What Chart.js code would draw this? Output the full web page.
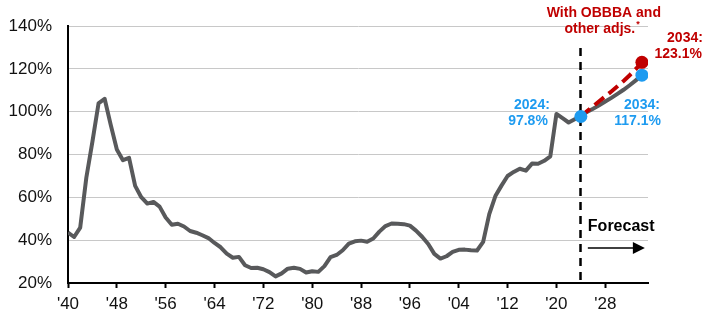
<!DOCTYPE html>
<html>
<head>
<meta charset="utf-8">
<script src="https://cdn.jsdelivr.net/npm/chart.js@4.4.1/dist/chart.umd.min.js"></script>
<style>
  body { margin: 0; background: #fff; }
  #debtChart { display: block; }
</style>
</head>
<body>
<canvas id="debtChart" width="716" height="324"></canvas>
<script>
// Debt held by the public, % of GDP
const histYears = [];
for (let y = 1940; y <= 2024; y++) histYears.push(y);
const histValues = [
  43.6, 41.5, 45.9, 69.2, 86.1, 103.9, 106.1, 93.9, 82.4, 77.4,
  78.5, 65.4, 60.1, 57.1, 57.9, 55.7, 50.6, 47.2, 47.7, 46.4,
  44.3, 43.5, 42.3, 41.0, 38.7, 36.7, 33.7, 31.8, 32.2, 28.3,
  27.0, 27.1, 26.4, 25.1, 23.1, 24.5, 26.7, 27.1, 26.6, 24.9,
  25.5, 25.2, 27.9, 32.1, 33.1, 35.3, 38.4, 39.5, 39.8, 39.3,
  40.8, 44.0, 46.6, 47.8, 47.7, 47.5, 46.8, 44.5, 41.6, 38.2,
  33.6, 31.4, 32.5, 34.5, 35.5, 35.6, 35.3, 35.2, 39.2, 52.2,
  60.6, 65.5, 70.0, 71.9, 73.4, 72.5, 75.8, 75.7, 77.1, 79.2,
  99.0, 97.0, 95.0, 96.5, 97.8
];

const forecastYears = [2024, 2025, 2026, 2027, 2028, 2029, 2030, 2031, 2032, 2033, 2034];
const baselineValues = [97.8, 99.9, 101.4, 103.0, 104.8, 106.5, 108.4, 110.3, 112.4, 114.7, 117.1];
const obbbaValues = [97.8, 100.3, 102.6, 104.9, 107.2, 109.5, 111.9, 114.4, 117.1, 120.0, 123.1];

const xTickYears = [1940, 1948, 1956, 1964, 1972, 1980, 1988, 1996, 2004, 2012, 2020, 2028];
const yTicks = [20, 40, 60, 80, 100, 120, 140];

const GRAY = "#58595b";
const RED = "#c00000";
const BLUE = "#1e9bf0";
const FONT = "'Liberation Sans', Arial, sans-serif";

const pts = (xs, ys) => xs.map((x, i) => ({ x: x, y: ys[i] }));

// dashed forecast divider + labels
const annotations = {
  id: "annotations",
  beforeDatasetsDraw(chart) {
    const { ctx, chartArea, scales } = chart;
    const x = Math.round(scales.x.getPixelForValue(2024)) - 0.5;
    ctx.save();
    ctx.strokeStyle = "#000";
    ctx.lineWidth = 2.5;
    ctx.setLineDash([8, 6]);
    ctx.beginPath();
    ctx.moveTo(x, 48);
    ctx.lineTo(x, chartArea.bottom);
    ctx.stroke();
    ctx.restore();
  },
  afterDraw(chart) {
    const { ctx, scales } = chart;
    const xs = scales.x, ys = scales.y;
    const x24 = xs.getPixelForValue(2024), x34 = xs.getPixelForValue(2034);
    ctx.save();
    ctx.textBaseline = "middle";
    ctx.font = "bold 14px " + FONT;

    // red OBBBA label
    ctx.fillStyle = RED;
    ctx.textAlign = "center";
    ctx.fillText("With OBBBA and", x24 + 23, 13);
    const t = "other adjs.";
    const w = ctx.measureText(t).width;
    ctx.fillText(t, x24 + 19, 29);
    ctx.font = "bold 9px " + FONT;
    ctx.textAlign = "left";
    ctx.fillText("*", x24 + 19 + w / 2 + 1, 25);

    ctx.font = "bold 14px " + FONT;
    ctx.textAlign = "right";
    const yRed = ys.getPixelForValue(obbbaValues[obbbaValues.length - 1]);
    ctx.fillText("2034:", x34 + 61, yRed - 24);
    ctx.fillText("123.1%", x34 + 60, yRed - 8);

    // blue labels
    ctx.fillStyle = BLUE;
    const y24 = ys.getPixelForValue(97.8);
    ctx.fillText("2024:", x24 - 31, y24 - 11);
    ctx.fillText("97.8%", x24 - 33, y24 + 5);
    ctx.fillText("2034:", x34 + 18, y24 - 11);
    ctx.fillText("117.1%", x34 + 19, y24 + 5);

    // forecast arrow
    ctx.fillStyle = "#000";
    ctx.textAlign = "left";
    ctx.font = "bold 16px " + FONT;
    ctx.fillText("Forecast", x24 + 7, 227);
    ctx.strokeStyle = "#000";
    ctx.lineWidth = 1.5;
    ctx.beginPath();
    ctx.moveTo(x24 + 7, 248);
    ctx.lineTo(x34 - 4, 248);
    ctx.stroke();
    ctx.beginPath();
    ctx.moveTo(x34 + 3, 248);
    ctx.lineTo(x34 - 9, 242);
    ctx.lineTo(x34 - 9, 254);
    ctx.closePath();
    ctx.fill();
    ctx.restore();
  }
};

new Chart(document.getElementById("debtChart").getContext("2d"), {
  type: "scatter",
  data: {
    datasets: [
      {
        data: [{ x: 2034, y: obbbaValues[obbbaValues.length - 1] }],
        pointRadius: 6.5,
        pointBackgroundColor: RED,
        pointBorderWidth: 0,
        showLine: false
      },
      {
        data: [{ x: 2024, y: 97.8 }, { x: 2034, y: baselineValues[baselineValues.length - 1] }],
        pointRadius: 6.5,
        pointBackgroundColor: BLUE,
        pointBorderWidth: 0,
        showLine: false
      },
      {
        data: pts(forecastYears, obbbaValues),
        showLine: true,
        borderColor: RED,
        borderWidth: 4,
        borderDash: [12, 6],
        pointRadius: 0,
        tension: 0
      },
      {
        data: pts(forecastYears, baselineValues),
        showLine: true,
        borderColor: GRAY,
        borderWidth: 4,
        pointRadius: 0,
        tension: 0
      },
      {
        data: pts(histYears, histValues),
        showLine: true,
        borderColor: GRAY,
        borderWidth: 4,
        borderJoinStyle: "round",
        pointRadius: 0,
        tension: 0
      }
    ]
  },
  options: {
    responsive: false,
    animation: false,
    layout: { padding: { top: 23, right: 68, left: 0, bottom: 0 } },
    plugins: {
      legend: { display: false },
      tooltip: { enabled: false }
    },
    scales: {
      x: {
        type: "linear",
        min: 1940,
        max: 2035,
        afterBuildTicks: (scale) => {
          scale.ticks = xTickYears.map((v) => ({ value: v }));
        },
        afterFit: (scale) => { scale.height = 41; },
        ticks: {
          autoSkip: false,
          maxRotation: 0,
          padding: 6,
          color: "#111",
          font: { family: FONT, size: 17 },
          callback: (v) => "'" + String(v).slice(2)
        },
        grid: {
          drawOnChartArea: false,
          drawTicks: true,
          tickLength: 5,
          tickWidth: 2,
          tickColor: "#000"
        },
        border: { display: true, color: "#000", width: 2 }
      },
      y: {
        min: 20,
        max: 140,
        afterBuildTicks: (scale) => {
          scale.ticks = yTicks.map((v) => ({ value: v }));
        },
        afterFit: (scale) => { scale.width = 68; },
        ticks: {
          padding: 16,
          color: "#111",
          font: { family: FONT, size: 17 },
          callback: (v) => v + "%"
        },
        grid: {
          color: "#c8c8c8",
          lineWidth: 1,
          drawTicks: false
        },
        border: { display: true, color: "#000", width: 2 }
      }
    }
  },
  plugins: [annotations]
});
</script>
</body>
</html>
